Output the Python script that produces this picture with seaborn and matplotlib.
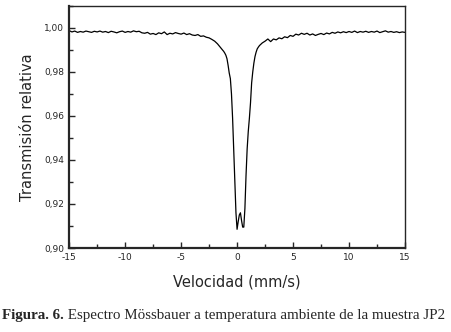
import numpy as np
import pandas as pd
import seaborn as sns
import matplotlib.pyplot as plt
from matplotlib.ticker import MultipleLocator, FuncFormatter

# velocity channels (mm/s): 0.25 apart on the baseline, 0.1 apart across the doublet
vel_izq = np.round(np.arange(-15, -1.6, 0.25), 2)
vel_pico = np.round(np.arange(-1.5, 1.95, 0.1), 2)
vel_der = np.round(np.arange(2.0, 15.001, 0.25), 2)

trans_izq = [
    0.9988, 0.9982, 0.9986, 0.9980, 0.9984, 0.9981, 0.9986, 0.9983, 0.9980, 0.9985,
    0.9982, 0.9986, 0.9981, 0.9984, 0.9979, 0.9985, 0.9982, 0.9978, 0.9983, 0.9986,
    0.9980, 0.9984, 0.9981, 0.9987, 0.9983, 0.9985, 0.9978, 0.9976, 0.9980, 0.9972,
    0.9975, 0.9970, 0.9978, 0.9974, 0.9982, 0.9970, 0.9976, 0.9973, 0.9979, 0.9975,
    0.9972, 0.9977, 0.9970, 0.9974, 0.9968, 0.9966, 0.9970, 0.9962, 0.9964, 0.9958,
    0.9955, 0.9948, 0.9940, 0.9928,
]
trans_pico = [
    0.9912, 0.9906, 0.9900, 0.9894, 0.9886, 0.9876, 0.9860, 0.9830, 0.9795, 0.9770,
    0.9700, 0.9590, 0.9450, 0.9300, 0.9160, 0.9085, 0.9120, 0.9150, 0.9160, 0.9125,
    0.9095, 0.9095, 0.9180, 0.9330, 0.9450, 0.9530, 0.9590, 0.9660, 0.9750, 0.9800,
    0.9840, 0.9870, 0.9890, 0.9905, 0.9913,
]
trans_der = [
    0.9920, 0.9932, 0.9940, 0.9950, 0.9938, 0.9950, 0.9946, 0.9955, 0.9951, 0.9960,
    0.9956, 0.9966, 0.9962, 0.9972, 0.9968, 0.9976, 0.9971, 0.9976, 0.9968, 0.9973,
    0.9966, 0.9971, 0.9975, 0.9970, 0.9977, 0.9973, 0.9980, 0.9976, 0.9982, 0.9978,
    0.9983, 0.9979, 0.9984, 0.9980, 0.9986, 0.9979, 0.9984, 0.9981, 0.9985, 0.9980,
    0.9984, 0.9981, 0.9986, 0.9979, 0.9983, 0.9987, 0.9981, 0.9984, 0.9980, 0.9983,
    0.9979, 0.9982, 0.9980,
]
df = pd.DataFrame({'v': np.concatenate([vel_izq, vel_pico, vel_der]),
                   't': trans_izq + trans_pico + trans_der})

sns.set_style('ticks')
plt.rcParams['font.family'] = ['DejaVu Sans']

fig = plt.figure(figsize=(4.52, 3.32), dpi=100)
ax = fig.add_axes([0.153, 0.253, 0.743, 0.729])
sns.lineplot(x='v', y='t', data=df, color='black', lw=0.9, ax=ax)

ax.set_xlim(-15, 15)
ax.set_ylim(0.90, 1.01)
ax.xaxis.set_major_locator(MultipleLocator(5))
ax.xaxis.set_minor_locator(MultipleLocator(2.5))
ax.yaxis.set_major_locator(MultipleLocator(0.02))
ax.yaxis.set_minor_locator(MultipleLocator(0.01))
ax.yaxis.set_major_formatter(FuncFormatter(lambda y, p: ('%.2f' % y).replace('.', ',')))
ax.xaxis.set_major_formatter(FuncFormatter(lambda x, p: '%d' % x))
ax.tick_params(which='both', direction='in', labelsize=6.5, width=1)
ax.tick_params(which='major', length=4)
ax.tick_params(which='minor', length=3)
for s in ax.spines.values():
    s.set_linewidth(1.0)
ax.spines['bottom'].set_linewidth(1.6)
ax.spines['left'].set_linewidth(1.6)

ax.set_xlabel('Velocidad (mm/s)', fontsize=10.5, labelpad=9)
ax.set_ylabel('Transmisión relativa', fontsize=10.5, labelpad=7)

t1 = fig.text(0.005, 0.038, 'Figura. 6.', family='Liberation Serif', weight='bold', fontsize=10.8)
ax.annotate(' Espectro Mössbauer a temperatura ambiente de la muestra JP2',
            xy=(1, 0), xycoords=t1, va='bottom', ha='left',
            family='Liberation Serif', fontsize=10.8, annotation_clip=False)

fig.savefig('out.png', dpi=100)
